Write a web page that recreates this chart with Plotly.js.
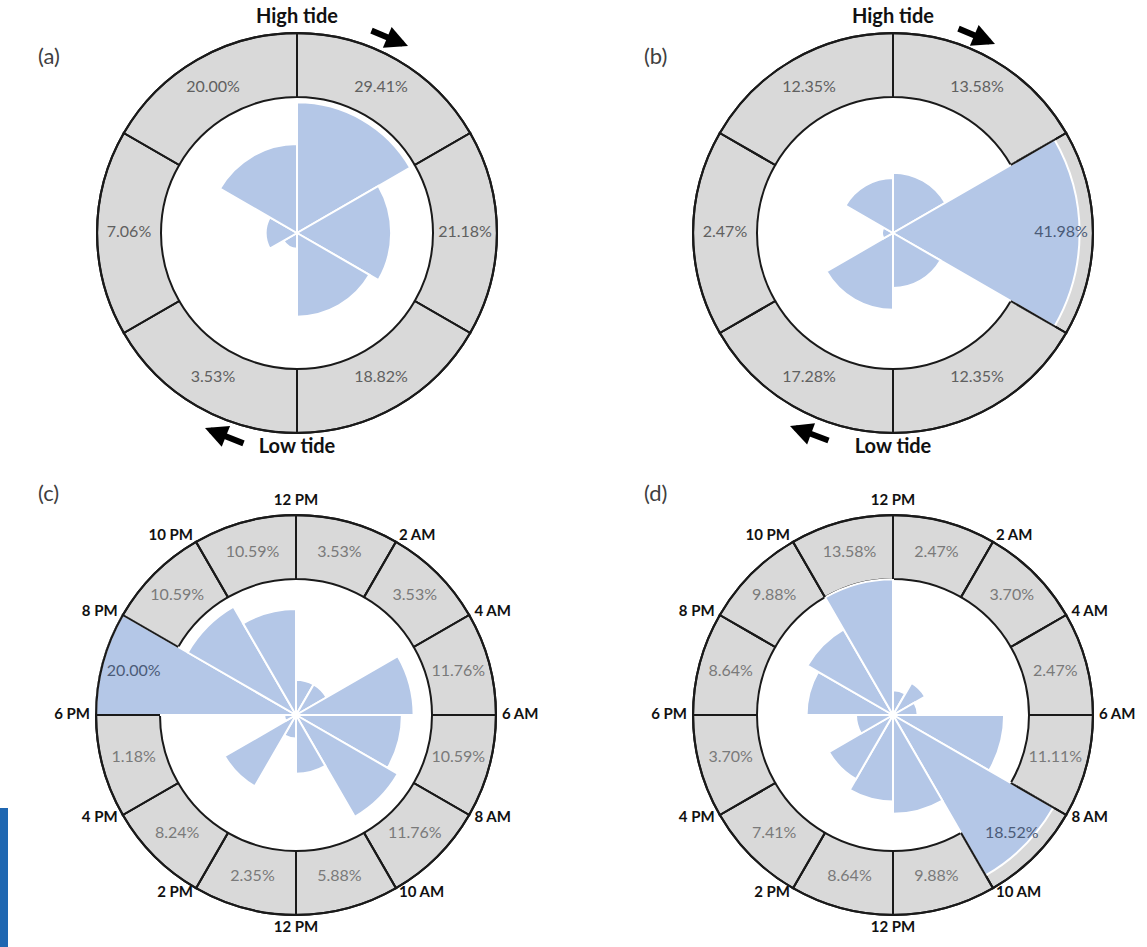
<!DOCTYPE html>
<html>
<head>
<meta charset="utf-8">
<script src="https://cdn.plot.ly/plotly-3.0.1.min.js"></script>
<style>
html,body{margin:0;padding:0;background:#ffffff;}
#chart{width:1147px;height:947px;}
</style>
</head>
<body>
<div id="chart"></div>
<script>
// ---------- Data ----------
// Panels (a) and (b): tide-phase bins (60 degrees each, clockwise from high tide)
const tideBinCenters = [30, 90, 150, 210, 270, 330];
const tideBinWidth = 60;
const tideEndLabels = ["High tide", "Low tide"];
const tideEndAngles = [0, 180];

const ringPctA = [29.41, 21.18, 18.82, 3.53, 7.06, 20.00];
const barsA    = [29.41, 21.18, 18.82, 3.53, 7.06, 20.00];

const ringPctB = [13.58, 41.98, 12.35, 17.28, 2.47, 12.35];
const barsB    = [13.58, 41.98, 12.35, 17.28, 2.47, 12.35];

// Panels (c) and (d): two-hour bins (30 degrees each)
const hourBinCenters = [15, 45, 75, 105, 135, 165, 195, 225, 255, 285, 315, 345];
const hourBinWidth = 30;
const hourTickAngles = [0, 30, 60, 90, 120, 150, 180, 210, 240, 270, 300, 330];
const hourTickLabels = ["12 PM", "2 AM", "4 AM", "6 AM", "8 AM", "10 AM",
                        "12 PM", "2 PM", "4 PM", "6 PM", "8 PM", "10 PM"];

const ringPctC = [3.53, 3.53, 11.76, 10.59, 11.76, 5.88, 2.35, 8.24, 1.18, 20.00, 10.59, 10.59];
const barsC    = [3.53, 3.53, 11.76, 10.59, 11.76, 5.88, 2.35, 8.24, 1.18, 20.00, 12.50, 10.59];

const ringPctD = [2.47, 3.70, 2.47, 11.11, 18.52, 9.88, 8.64, 7.41, 3.70, 8.64, 9.88, 13.58];
const barsD    = [2.47, 3.70, 2.47, 11.11, 18.52, 9.88, 8.64, 7.41, 3.70, 8.64, 9.88, 13.58];

const panelLetters = ["(a)", "(b)", "(c)", "(d)"];

// ---------- Styling ----------
const W = 1147, H = 947;
const FONT = 'Lato, "Open Sans", "Liberation Sans", sans-serif';
const RING_FILL = '#d9d9d9';
const BAR_FILL = '#b4c7e7';
const LINE = '#1a1a1a';
const EXT = 1.15;        // room outside the ring for outer labels
const RING_PX = 200;     // outer ring radius in pixels
const INNER_FRAC = 0.68; // inner edge of ring relative to outer edge

const traces = [];

function outerPos(a) {
  if (a === 0) return 'top center';
  if (a === 180) return 'bottom center';
  return a < 180 ? 'middle right' : 'middle left';
}

function addPanel(sub, rmax, centers, width, pct, bars, outer, labelGray) {
  const base = rmax * INNER_FRAC;
  // gray annulus
  traces.push({
    type: 'barpolar', subplot: sub,
    r: centers.map(() => rmax - base), base: base, theta: centers, width: width,
    marker: {color: RING_FILL, line: {color: LINE, width: 2}},
    hoverinfo: 'skip'
  });
  // blue rose bars
  traces.push({
    type: 'barpolar', subplot: sub,
    r: bars, theta: centers, width: width,
    marker: {color: BAR_FILL, line: {color: '#ffffff', width: 2}},
    hoverinfo: 'skip'
  });
  // ring dividers redrawn on top
  const dr = [], dt = [];
  centers.forEach(c => { dr.push(base, rmax, null); dt.push(c - width / 2, c - width / 2, null); });
  traces.push({
    type: 'scatterpolar', subplot: sub, mode: 'lines',
    r: dr, theta: dt, line: {color: LINE, width: 2}, hoverinfo: 'skip'
  });
  // outer edge redrawn on top (thin empty band)
  traces.push({
    type: 'barpolar', subplot: sub,
    r: centers.map(() => rmax * 0.001), base: rmax * 0.999, theta: centers, width: width,
    marker: {color: 'rgba(0,0,0,0)', line: {color: LINE, width: 2}},
    hoverinfo: 'skip'
  });
  // percentage labels in the ring
  traces.push({
    type: 'scatterpolar', subplot: sub, mode: 'text',
    r: centers.map(() => (base + rmax) / 2), theta: centers,
    text: pct.map(v => v.toFixed(2) + '%'),
    textposition: 'middle center',
    textfont: {family: FONT, size: 16, color: bars.map(b => b > base ? '#4b5b78' : labelGray)},
    hoverinfo: 'skip'
  });
  // outer labels
  traces.push({
    type: 'scatterpolar', subplot: sub, mode: 'text',
    r: outer.angles.map(() => rmax * outer.r), theta: outer.angles,
    text: outer.labels.map(t => '<b>' + t + '</b>'),
    textposition: outer.centered ? 'middle center' : outer.angles.map(outerPos),
    textfont: outer.font,
    hoverinfo: 'skip'
  });
}

const tideOuter = {angles: tideEndAngles, labels: tideEndLabels, r: 1.075, centered: true,
                   font: {family: FONT, size: 20, color: '#111111'}};
const hourOuter = {angles: hourTickAngles, labels: hourTickLabels, r: 1.03, centered: false,
                   font: {family: FONT, size: 15, color: '#111111'}};

addPanel('polar',  45, tideBinCenters, tideBinWidth, ringPctA, barsA, tideOuter, '#606060');
addPanel('polar2', 45, tideBinCenters, tideBinWidth, ringPctB, barsB, tideOuter, '#606060');
addPanel('polar3', 20, hourBinCenters, hourBinWidth, ringPctC, barsC, hourOuter, '#7a7a7a');
addPanel('polar4', 20, hourBinCenters, hourBinWidth, ringPctD, barsD, hourOuter, '#7a7a7a');

function polarLayout(cx, cy, rmax) {
  const rad = RING_PX * EXT;
  return {
    domain: {x: [(cx - rad) / W, (cx + rad) / W], y: [(H - cy - rad) / H, (H - cy + rad) / H]},
    bgcolor: 'rgba(0,0,0,0)',
    barmode: 'overlay',
    radialaxis: {visible: false, range: [0, rmax * EXT], showgrid: false},
    angularaxis: {visible: false, direction: 'clockwise', rotation: 90, showgrid: false}
  };
}

const px = x => x / W, py = y => 1 - y / H;

const annotations = [];
[[36, 40], [655, 40], [36, 493], [655, 493]].forEach((p, i) => {
  annotations.push({xref: 'paper', yref: 'paper', x: px(p[0]), y: py(p[1]), text: panelLetters[i],
    showarrow: false, font: {family: FONT, size: 22, color: '#404040'}});
});
[[[408, 46], [370, 30]], [[995, 44], [957, 28]], [[205, 428], [245, 444]], [[790, 426], [830, 441]]].forEach(a => {
  annotations.push({xref: 'paper', yref: 'paper', x: px(a[0][0]), y: py(a[0][1]),
    ax: a[1][0] - a[0][0], ay: a[1][1] - a[0][1], text: '', showarrow: true,
    arrowhead: 2, arrowsize: 0.75, arrowwidth: 6, arrowcolor: '#000000'});
});

const layout = {
  width: W, height: H,
  margin: {l: 0, r: 0, t: 0, b: 0},
  paper_bgcolor: '#ffffff',
  showlegend: false,
  font: {family: FONT},
  polar:  polarLayout(297, 233, 45),
  polar2: polarLayout(893, 233, 45),
  polar3: polarLayout(296, 715, 20),
  polar4: polarLayout(893, 715, 20),
  annotations: annotations,
  shapes: [{type: 'rect', xref: 'paper', yref: 'paper', x0: 0, x1: px(8), y0: 0, y1: py(808),
            fillcolor: '#1f67b1', line: {width: 0}, layer: 'above'}]
};

Plotly.newPlot('chart', traces, layout, {staticPlot: true, displayModeBar: false});
</script>
</body>
</html>
